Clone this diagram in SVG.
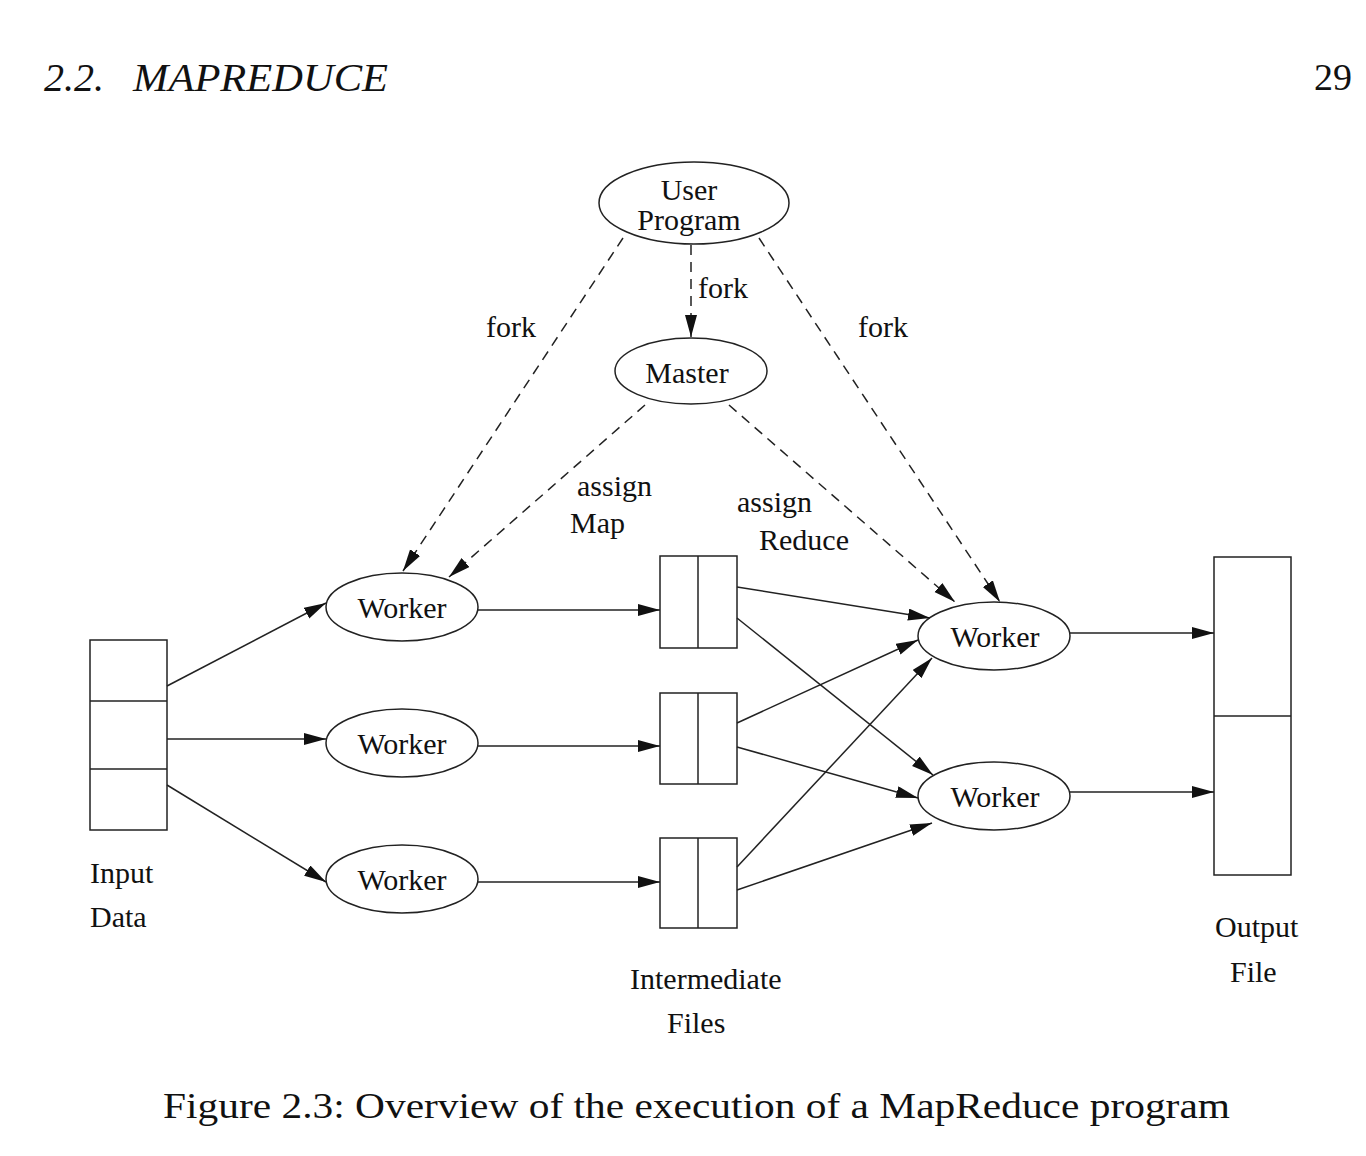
<svg xmlns="http://www.w3.org/2000/svg" width="1366" height="1156" viewBox="0 0 1366 1156">
<style>
.shape{fill:none;stroke:#222;stroke-width:1.5}
.lbl{font-family:"Liberation Serif","Times New Roman",serif;font-size:30px;fill:#111}
.mid{text-anchor:middle}
.conn line{stroke:#222;stroke-width:1.5;fill:none}
.conn .dash{stroke-dasharray:10 7}
.head{font-family:"Liberation Serif","Times New Roman",serif;fill:#111}
</style>
<defs>
<marker id="ah" markerUnits="userSpaceOnUse" markerWidth="24" markerHeight="14" refX="22" refY="6" orient="auto">
<path d="M0,0 L22,6 L0,12 z" fill="#111"/>
</marker>
</defs>
<rect width="1366" height="1156" fill="#fff"/>
<g id="header">
<text class="head" x="44" y="91" font-size="40" font-style="italic">2.2.</text>
<text class="head" x="133" y="91" font-size="40" font-style="italic" textLength="255" lengthAdjust="spacingAndGlyphs">MAPREDUCE</text>
<text class="head" x="1352" y="90" font-size="38" text-anchor="end">29</text>
</g>
<g id="user-program">
<ellipse class="shape" cx="694" cy="203" rx="95" ry="41"/>
<text class="lbl mid" x="689" y="200">User</text>
<text class="lbl mid" x="689" y="230">Program</text>
</g>
<g id="master">
<ellipse class="shape" cx="691" cy="371" rx="76" ry="33"/>
<text class="lbl mid" x="687" y="383">Master</text>
</g>
<g id="input-data">
<rect class="shape" x="90" y="640" width="77" height="190"/>
<line class="shape" x1="90" y1="701" x2="167" y2="701"/>
<line class="shape" x1="90" y1="769" x2="167" y2="769"/>
<text class="lbl" x="90" y="883">Input</text>
<text class="lbl" x="90" y="927">Data</text>
</g>
<g id="map-worker-1">
<ellipse class="shape" cx="402" cy="607" rx="76" ry="34"/>
<text class="lbl mid" x="402" y="618">Worker</text>
</g>
<g id="map-worker-2">
<ellipse class="shape" cx="402" cy="743" rx="76" ry="34"/>
<text class="lbl mid" x="402" y="754">Worker</text>
</g>
<g id="map-worker-3">
<ellipse class="shape" cx="402" cy="879" rx="76" ry="34"/>
<text class="lbl mid" x="402" y="890">Worker</text>
</g>
<g id="intermediate-files">
<rect class="shape" x="660" y="556" width="77" height="92"/>
<line class="shape" x1="698" y1="556" x2="698" y2="648"/>
<rect class="shape" x="660" y="693" width="77" height="91"/>
<line class="shape" x1="698" y1="693" x2="698" y2="784"/>
<rect class="shape" x="660" y="838" width="77" height="90"/>
<line class="shape" x1="698" y1="838" x2="698" y2="928"/>
<text class="lbl" x="630" y="989">Intermediate</text>
<text class="lbl" x="667" y="1033">Files</text>
</g>
<g id="reduce-worker-1">
<ellipse class="shape" cx="994" cy="636" rx="76" ry="34"/>
<text class="lbl mid" x="995" y="647">Worker</text>
</g>
<g id="reduce-worker-2">
<ellipse class="shape" cx="994" cy="796" rx="76" ry="34"/>
<text class="lbl mid" x="995" y="807">Worker</text>
</g>
<g id="output-file">
<rect class="shape" x="1214" y="557" width="77" height="318"/>
<line class="shape" x1="1214" y1="716" x2="1291" y2="716"/>
<text class="lbl" x="1215" y="937">Output</text>
<text class="lbl" x="1230" y="982">File</text>
</g>
<g id="connectors" class="conn">
<line class="dash" x1="691" y1="245" x2="691" y2="337" marker-end="url(#ah)"/>
<line class="dash" x1="623" y1="238" x2="403" y2="571" marker-end="url(#ah)"/>
<line class="dash" x1="759" y1="238" x2="1000" y2="602" marker-end="url(#ah)"/>
<line class="dash" x1="645" y1="405" x2="449" y2="577" marker-end="url(#ah)"/>
<line class="dash" x1="729" y1="405" x2="955" y2="602" marker-end="url(#ah)"/>
<line x1="167" y1="686" x2="326" y2="603" marker-end="url(#ah)"/>
<line x1="167" y1="739" x2="326" y2="739" marker-end="url(#ah)"/>
<line x1="167" y1="785" x2="326" y2="882" marker-end="url(#ah)"/>
<line x1="478" y1="610" x2="660" y2="610" marker-end="url(#ah)"/>
<line x1="478" y1="746" x2="660" y2="746" marker-end="url(#ah)"/>
<line x1="478" y1="882" x2="660" y2="882" marker-end="url(#ah)"/>
<line x1="737" y1="587" x2="930" y2="618" marker-end="url(#ah)"/>
<line x1="737" y1="618" x2="933" y2="775" marker-end="url(#ah)"/>
<line x1="737" y1="723" x2="918" y2="640" marker-end="url(#ah)"/>
<line x1="737" y1="747" x2="918" y2="798" marker-end="url(#ah)"/>
<line x1="737" y1="867" x2="932" y2="658" marker-end="url(#ah)"/>
<line x1="737" y1="890" x2="932" y2="823" marker-end="url(#ah)"/>
<line x1="1070" y1="633" x2="1214" y2="633" marker-end="url(#ah)"/>
<line x1="1070" y1="792" x2="1214" y2="792" marker-end="url(#ah)"/>
</g>
<g id="edge-labels">
<text class="lbl" x="698" y="298">fork</text>
<text class="lbl" x="486" y="337">fork</text>
<text class="lbl" x="858" y="337">fork</text>
<text class="lbl" x="577" y="496">assign</text>
<text class="lbl" x="570" y="533">Map</text>
<text class="lbl" x="737" y="512">assign</text>
<text class="lbl" x="759" y="550">Reduce</text>
</g>
<g id="caption">
<text class="head" x="163" y="1118" font-size="35" textLength="1067" lengthAdjust="spacingAndGlyphs">Figure 2.3: Overview of the execution of a MapReduce program</text>
</g>
</svg>
